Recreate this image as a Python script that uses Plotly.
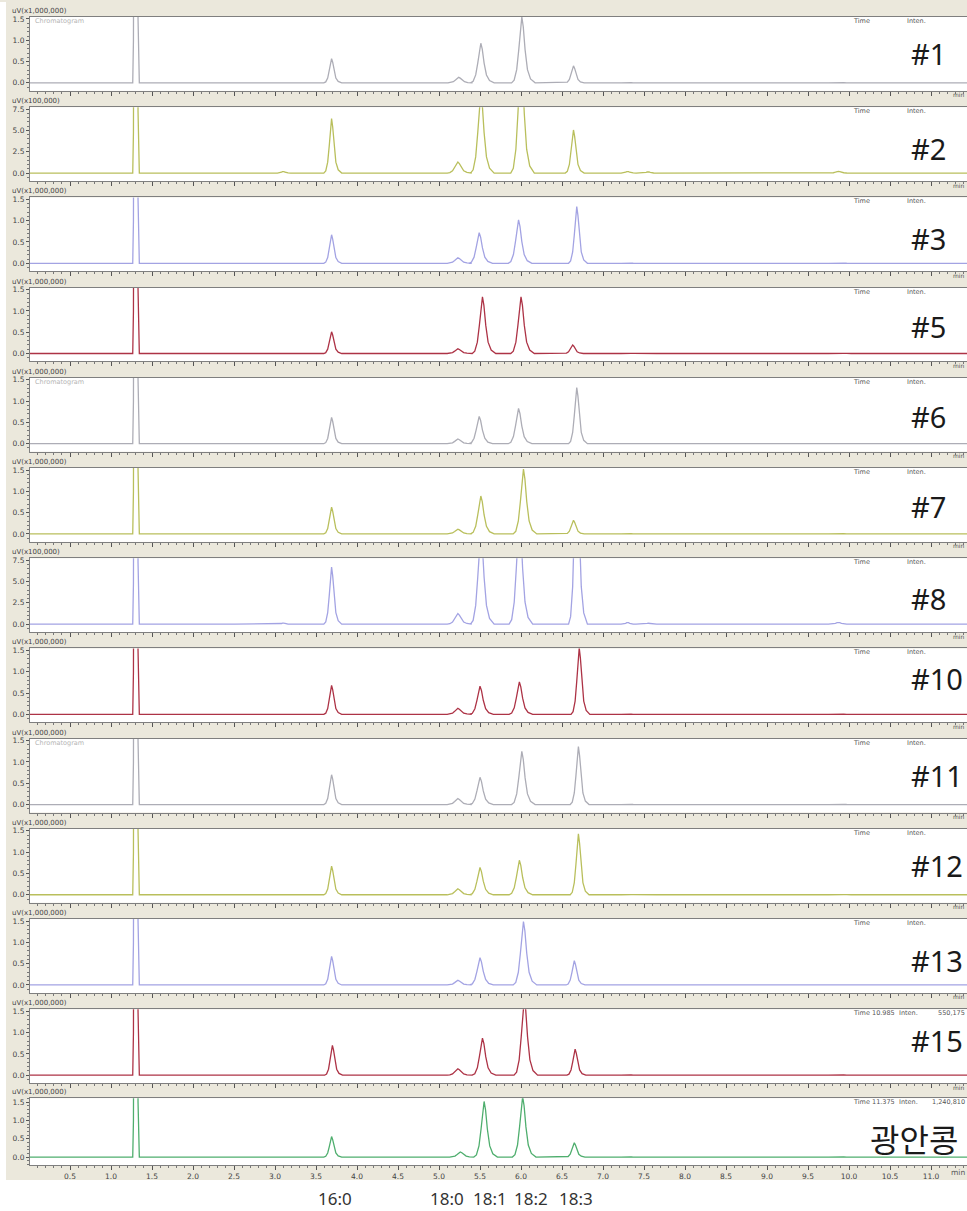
import plotly.graph_objects as go

W, H = 967, 1211

# ---------------- data ----------------
SAMPLES = ["#1", "#2", "#3", "#5", "#6", "#7", "#8", "#10", "#11", "#12", "#13", "#15", "광안콩"]
UNITS = ["uV(x1,000,000)", "uV(x100,000)", "uV(x1,000,000)", "uV(x1,000,000)", "uV(x1,000,000)",
         "uV(x1,000,000)", "uV(x100,000)", "uV(x1,000,000)", "uV(x1,000,000)", "uV(x1,000,000)",
         "uV(x1,000,000)", "uV(x1,000,000)", "uV(x1,000,000)"]
Y_TICKS_1M = [0.0, 0.5, 1.0, 1.5]
Y_TICKS_100K = [0.0, 2.5, 5.0, 7.5]
FATTY_ACIDS = ["16:0", "18:0", "18:1", "18:2", "18:3"]

# peak order: solvent, 2.4, 3.1, 16:0, 18:0, 18:1, 18:2, 18:3, 7.3, 7.55, 9.9
PEAK_WIDTH = [0.07, 0.14, 0.14, 0.19, 0.26, 0.25, 0.25, 0.20, 0.16, 0.16, 0.24]

RT_1 = [1.30, 2.42, 3.10, 3.69, 5.24, 5.51, 6.01, 6.64, 7.30, 7.55, 9.87]
INT_1 = [25, 0.0, 0.01, 0.57, 0.13, 0.93, 1.55, 0.40, 0.02, 0.01, 0.02]
RT_2 = [1.30, 2.42, 3.10, 3.69, 5.23, 5.51, 6.00, 6.64, 7.30, 7.55, 9.87]
INT_2 = [120, 0.05, 0.2, 6.4, 1.3, 9.5, 14.0, 5.06, 0.2, 0.15, 0.2]
RT_3 = [1.30, 2.42, 3.10, 3.69, 5.23, 5.49, 5.97, 6.68, 7.30, 7.55, 9.87]
INT_3 = [25, 0.0, 0.01, 0.67, 0.13, 0.72, 1.02, 1.33, 0.02, 0.01, 0.02]
RT_5 = [1.30, 2.42, 3.10, 3.69, 5.23, 5.53, 6.00, 6.63, 7.30, 7.55, 9.87]
INT_5 = [25, 0.0, 0.01, 0.51, 0.11, 1.33, 1.33, 0.20, 0.02, 0.01, 0.02]
RT_6 = [1.30, 2.42, 3.10, 3.69, 5.23, 5.49, 5.97, 6.68, 7.30, 7.55, 9.87]
INT_6 = [25, 0.0, 0.01, 0.62, 0.11, 0.64, 0.83, 1.32, 0.02, 0.01, 0.02]
RT_7 = [1.30, 2.42, 3.10, 3.69, 5.23, 5.51, 6.03, 6.64, 7.30, 7.55, 9.87]
INT_7 = [25, 0.0, 0.01, 0.63, 0.11, 0.89, 1.52, 0.32, 0.02, 0.01, 0.02]
RT_8 = [1.30, 2.42, 3.10, 3.69, 5.23, 5.51, 5.98, 6.68, 7.30, 7.55, 9.87]
INT_8 = [120, 0.08, 0.15, 6.7, 1.25, 11.0, 13.0, 22.0, 0.2, 0.1, 0.2]
RT_10 = [1.30, 2.42, 3.10, 3.69, 5.23, 5.50, 5.98, 6.71, 7.30, 7.55, 9.87]
INT_10 = [25, 0.0, 0.01, 0.68, 0.14, 0.66, 0.76, 1.56, 0.02, 0.01, 0.02]
RT_11 = [1.30, 2.42, 3.10, 3.69, 5.23, 5.50, 6.01, 6.70, 7.30, 7.55, 9.87]
INT_11 = [25, 0.0, 0.01, 0.70, 0.14, 0.64, 1.25, 1.36, 0.02, 0.01, 0.02]
RT_12 = [1.30, 2.42, 3.10, 3.69, 5.23, 5.50, 5.98, 6.70, 7.30, 7.55, 9.87]
INT_12 = [25, 0.0, 0.01, 0.67, 0.14, 0.64, 0.81, 1.43, 0.02, 0.01, 0.02]
RT_13 = [1.30, 2.42, 3.10, 3.69, 5.23, 5.50, 6.03, 6.65, 7.30, 7.55, 9.87]
INT_13 = [25, 0.0, 0.01, 0.67, 0.11, 0.64, 1.49, 0.57, 0.02, 0.01, 0.02]
RT_15 = [1.30, 2.42, 3.10, 3.70, 5.23, 5.53, 6.04, 6.66, 7.30, 7.55, 9.87]
INT_15 = [25, 0.01, 0.01, 0.70, 0.15, 0.87, 1.80, 0.61, 0.02, 0.01, 0.02]
RT_GA = [1.30, 2.42, 3.10, 3.69, 5.26, 5.55, 6.02, 6.65, 7.30, 7.55, 9.87]
INT_GA = [25, 0.0, 0.01, 0.56, 0.14, 1.52, 1.65, 0.39, 0.02, 0.01, 0.02]

RTS = [RT_1, RT_2, RT_3, RT_5, RT_6, RT_7, RT_8, RT_10, RT_11, RT_12, RT_13, RT_15, RT_GA]
INTS = [INT_1, INT_2, INT_3, INT_5, INT_6, INT_7, INT_8, INT_10, INT_11, INT_12, INT_13, INT_15, INT_GA]

TIME_INFO = {11: ("10.985", "550,175"), 12: ("11.375", "1,240,810")}

# ---------------- styles ----------------
GRAY, OLIVE, LAV, RED, GREEN = "#adadb6", "#b9bf5c", "#a3a3e3", "#ad3346", "#4fae6e"
COLORS = [GRAY, OLIVE, LAV, RED, GRAY, OLIVE, LAV, RED, GRAY, OLIVE, LAV, RED, GREEN]
BEIGE = "#ebe8dc"
AXIS_COL = "#7f7f7f"
# peak outline (offset in half-widths, fraction of apex height)
PEAK_PROFILE = [(-1.0, 0.0), (-0.75, 0.04), (-0.5, 0.2), (-0.3, 0.5), (-0.13, 0.85), (0.0, 1.0),
                (0.14, 0.85), (0.32, 0.5), (0.55, 0.2), (0.85, 0.06), (1.3, 0.0)]

PITCH = 90.36
TOPS = [15 + PITCH * i for i in range(12)] + [1098]
BOTS = [t + 74 for t in TOPS[:12]] + [1165]
PX15 = [64] * 12 + [55]          # pixels spanned by 1.5 units (or 7.5 for x100,000)
BIG_Y = [52, 147, 237, 325, 415, 505, 597, 678, 775, 865, 960, 1040, 1138]

X_LEFT_PX = 30
X0_PX, PX_PER_MIN = 29, 82.0
XR = [(X_LEFT_PX - X0_PX) / PX_PER_MIN, (W - X0_PX) / PX_PER_MIN]


def yp(px):
    return 1 - px / H


def small(size=6.5, color="#555"):
    return dict(family="DejaVu Sans", size=size, color=color)


fig = go.Figure()
annotations = []

for i, name in enumerate(SAMPLES):
    xs, ys = [0.0], [0.0]
    for rt, h, w in zip(RTS[i], INTS[i], PEAK_WIDTH):
        if h <= 0:
            continue
        for o, f in PEAK_PROFILE:
            xs.append(rt + o * w / 2)
            ys.append(f * h)
    xs.append(XR[1] + 0.2)
    ys.append(0.0)
    sfx = "" if i == 0 else str(i + 1)
    fig.add_trace(go.Scatter(x=xs, y=ys, mode="lines", xaxis="x" + sfx, yaxis="y" + sfx,
                             line=dict(color=COLORS[i], width=1.3),
                             showlegend=False, hoverinfo="skip"))

    big = "100,000" in UNITS[i]
    top, bot = TOPS[i], BOTS[i]
    k = PX15[i] / (7.5 if big else 1.5)
    zero_px = bot - 8
    yr = [-(bot - zero_px) / k, (zero_px - top) / k]
    last = i == len(SAMPLES) - 1

    fig.layout["xaxis" + sfx] = dict(
        domain=[X_LEFT_PX / W, 1], range=XR, anchor="y" + sfx,
        showline=True, linecolor=AXIS_COL, linewidth=1, mirror=True,
        ticks="outside", ticklen=4, tickcolor="#555", dtick=0.5, tick0=0,
        minor=dict(ticks="outside", ticklen=2, dtick=0.1, tickcolor="#777"),
        showgrid=False, zeroline=False, showticklabels=last, tickformat=".1f",
        tickfont=small(7.5, "#444"))
    fig.layout["yaxis" + sfx] = dict(
        domain=[yp(bot), yp(top)], range=yr, anchor="x" + sfx,
        showline=True, linecolor=AXIS_COL, linewidth=1,
        ticks="outside", ticklen=3, tickcolor="#555",
        tickvals=Y_TICKS_100K if big else Y_TICKS_1M, tickformat=".1f",
        minor=dict(ticks="outside", ticklen=2, dtick=0.5 if big else 0.1, tickcolor="#777"),
        showgrid=False, zeroline=False,
        tickfont=small(7.5, "#444"))

    # header
    annotations.append(dict(x=10 / W, y=yp(top - 6), xref="paper", yref="paper", text=UNITS[i],
                            showarrow=False, xanchor="left", yanchor="middle",
                            font=small(7, "#444")))
    if i in (0, 4, 8):
        annotations.append(dict(x=33 / W, y=yp(top + 4), xref="paper", yref="paper",
                                text="Chromatogram", showarrow=False, xanchor="left",
                                yanchor="middle", font=small(6.5, "#b5b5b5")))
    if i in TIME_INFO:
        tv, iv = TIME_INFO[i]
        for xpx, txt in ((851, "Time"), (870, tv), (897, "Inten.")):
            annotations.append(dict(x=xpx / W, y=yp(top + 4), xref="paper", yref="paper",
                                    text=txt, showarrow=False, xanchor="left", yanchor="middle",
                                    font=small()))
        annotations.append(dict(x=1.0, y=yp(top + 4), xref="paper", yref="paper",
                                text=iv, showarrow=False, xanchor="right", yanchor="middle",
                                font=small()))
    else:
        for xpx, txt in ((851, "Time"), (905, "Inten.")):
            annotations.append(dict(x=xpx / W, y=yp(top + 4), xref="paper", yref="paper",
                                    text=txt, showarrow=False, xanchor="left", yanchor="middle",
                                    font=small()))
    # "min" at right end of axis strip
    annotations.append(dict(x=1.0, y=yp(bot + (7 if last else 4)), xref="paper", yref="paper",
                            text="min", showarrow=False, xanchor="right", yanchor="middle",
                            font=small(7.5 if last else 6, "#555")))
    # sample label
    if last:
        annotations.append(dict(x=868 / W, y=yp(BIG_Y[i]), xref="paper", yref="paper", text=name,
                                showarrow=False, xanchor="left", yanchor="middle",
                                font=dict(family="Noto Sans CJK KR", size=32, color="#1a1a1a")))
    else:
        annotations.append(dict(x=909 / W, y=yp(BIG_Y[i]), xref="paper", yref="paper", text=name,
                                showarrow=False, xanchor="left", yanchor="middle",
                                font=dict(family="Noto Sans", size=29, color="#1a1a1a")))

# fatty acid labels below the chart
for txt, xpx in zip(FATTY_ACIDS, [335, 447, 490, 531, 576]):
    annotations.append(dict(x=xpx / W, y=yp(1198), xref="paper", yref="paper", text=txt,
                            showarrow=False, xanchor="center", yanchor="middle",
                            font=dict(family="Noto Sans", size=17, color="#333")))

shapes = [
    dict(type="rect", xref="paper", yref="paper", x0=0, x1=1, y0=0, y1=yp(1180),
         fillcolor="white", line=dict(width=0), layer="below"),
    dict(type="rect", xref="paper", yref="paper", x0=0, x1=6 / W, y0=0, y1=1,
         fillcolor="white", line=dict(width=0), layer="below"),
]

fig.update_layout(width=W, height=H, margin=dict(l=0, r=0, t=0, b=0),
                  paper_bgcolor=BEIGE, plot_bgcolor="white",
                  annotations=annotations, shapes=shapes, showlegend=False)

fig.write_html("out.html", config={"displayModeBar": False})
